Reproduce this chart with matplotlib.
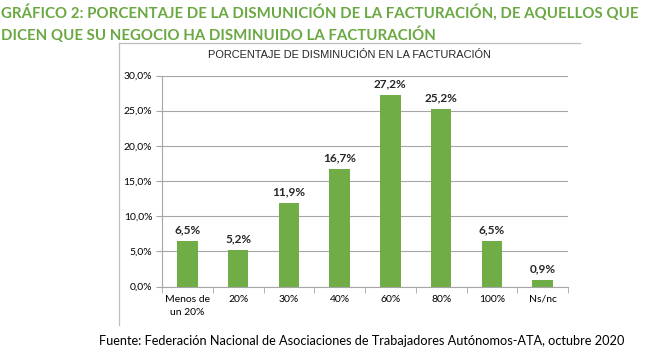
import numpy as np
import matplotlib
matplotlib.use("Agg")
import matplotlib.pyplot as plt
from matplotlib.lines import Line2D

# datos
categorias = ["Menos de\nun 20%", "20%", "30%", "40%", "60%", "80%", "100%", "Ns/nc"]
valores = [6.5, 5.2, 11.9, 16.7, 27.2, 25.2, 6.5, 0.9]
ticks_y = [0, 5, 10, 15, 20, 25, 30]

titulo_1 = "GRÁFICO 2: PORCENTAJE DE LA DISMUNICIÓN DE LA FACTURACIÓN, DE AQUELLOS QUE"
titulo_2 = "DICEN QUE SU NEGOCIO HA DISMINUIDO LA FACTURACIÓN"
titulo_grafico = "PORCENTAJE DE DISMINUCIÓN EN LA FACTURACIÓN"
fuente = "Fuente: Federación Nacional de Asociaciones de Trabajadores Autónomos-ATA, octubre 2020"

verde = "#70AD47"
verde_titulo = "#6AA842"
W, H = 650, 354

fig = plt.figure(figsize=(W / 100, H / 100), dpi=100)

# marco del gráfico (solo borde superior e izquierdo visibles)
fig.add_artist(Line2D([119 / W, 580 / W], [1 - 43 / H, 1 - 43 / H], color="#BFBFBF", lw=0.9))
fig.add_artist(Line2D([119 / W, 119 / W], [1 - 43 / H, 1 - 325 / H], color="#BFBFBF", lw=0.9))

# área de trazado
x0, x1 = 162, 568
y0, y1 = 286.5, 75.5
ax = fig.add_axes([x0 / W, 1 - y0 / H, (x1 - x0) / W, (y0 - y1) / H])

x = np.arange(len(categorias))
ax.bar(x, valores, width=0.4, color=verde, zorder=3)
for xi, v in zip(x, valores):
    ax.text(xi, v + 0.8, f"{v:.1f}%".replace(".", ","), ha="center", va="bottom",
            fontsize=8.5, fontweight="bold", family="Lato", color="#262626")

ax.set_xlim(-0.5, len(categorias) - 0.5)
ax.set_ylim(0, 30)
ax.set_yticks(ticks_y)
ax.set_yticklabels([f"{t:.1f}%".replace(".", ",") for t in ticks_y], family="Lato", fontsize=7.5)
ax.set_xticks(x)
ax.set_xticklabels(categorias, family="Lato", fontsize=7.5, linespacing=1.55, va="top")
ax.set_xticks(np.arange(len(categorias) + 1) - 0.5, minor=True)
ax.tick_params(axis="x", which="major", length=0, pad=6)
ax.tick_params(axis="x", which="minor", length=4, color="#A6A6A6")
ax.tick_params(axis="y", length=4, color="#A6A6A6", pad=3)
ax.grid(axis="y", color="#A6A6A6", lw=0.8, zorder=0)
for s in ["top", "right"]:
    ax.spines[s].set_visible(False)
ax.spines["left"].set_color("#A6A6A6")
ax.spines["bottom"].set_color("#A6A6A6")

fig.text(349 / W, 1 - 55 / H, titulo_grafico, ha="center", va="center",
         family="Liberation Sans", fontsize=7.95, color="#262626")

fig.text(1 / W, 1 - 12 / H, titulo_1, ha="left", va="center", family="Lato",
         fontweight="bold", fontsize=10.85, color=verde_titulo)
fig.text(1 / W, 1 - 35 / H, titulo_2, ha="left", va="center", family="Lato",
         fontweight="bold", fontsize=10.85, color=verde_titulo)

fig.text(362 / W, 1 - 341 / H, fuente, ha="center", va="center", family="Lato",
         fontsize=9.2, color="#000000")

fig.savefig("out.png", dpi=100)
